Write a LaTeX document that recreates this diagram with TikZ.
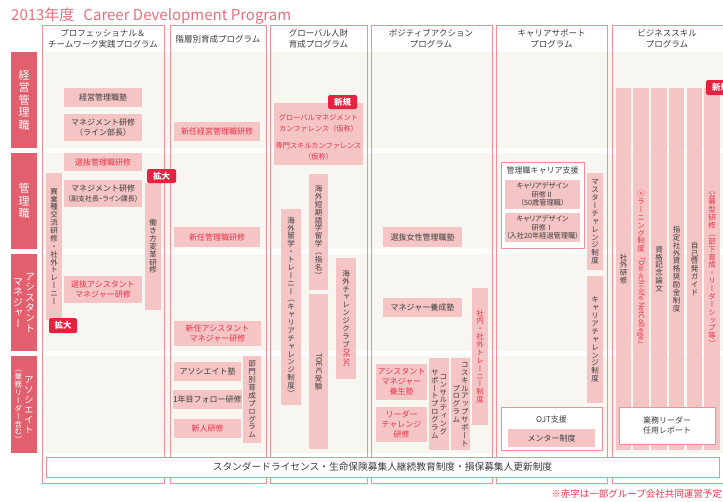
\documentclass[tikz,border=0pt]{standalone}
\usepackage{fontspec}
\usepackage{graphicx}
\setmainfont{Noto Sans CJK JP}
\newfontfamily\vfont[RawFeature=+vert]{Noto Sans CJK JP}
\newfontfamily\pfont[RawFeature=+palt]{Noto Sans CJK JP}
\definecolor{titlepink}{HTML}{E8707E}
\definecolor{rowred}{HTML}{E2606E}
\definecolor{linepink}{HTML}{EE8F99}
\definecolor{boxpink}{HTML}{F5C4C5}
\definecolor{beige}{HTML}{F8F6F1}
\definecolor{badgered}{HTML}{E5223F}
\definecolor{redtxt}{HTML}{E8334A}
\definecolor{darktxt}{HTML}{3C3C3C}
\makeatletter
\def\vt@end{}
\def\vt@endmark{\vt@end}
\newcommand\vtgap{0.05}
\def\vt@loop#1{\def\vt@arg{#1}\ifx\vt@arg\vt@endmark\else\vt@char{#1}\vskip\vtgap em\relax\expandafter\vt@loop\fi}
\def\vt@char#1{\hbox to 1em{\hss\vrule width0pt height0.88em depth0.12em\relax#1\hss}}
\newcommand\vt[1]{\vtop{\vfont\offinterlineskip\vt@loop#1\vt@end\unskip}}
\newcommand\rlat[1]{\raisebox{0.88em}{\rotatebox{-90}{\normalfont\vrule width0pt height0.78em depth0.22em\relax#1}}}
\newcommand\vtwo[3][1pt]{$\vcenter{\vt{#3}}\hskip#1\vcenter{\vt{#2}}$}
\makeatother
\newcommand\bx[7]{\node[#1,minimum width={(#5-#3)*1pt},minimum height={(#6-#4)*1pt}] (#2) at ({(#3+#5)/2},{(#4+#6)/2}) {#7};}
\tikzset{
  pbox/.style={fill=boxpink,inner sep=0pt,align=center,text=darktxt,font=\fontsize{8}{10}\selectfont},
  redt/.style={text=redtxt},
  vbar/.style={fill=boxpink,inner sep=0pt,text=darktxt,font=\fontsize{7.5}{9}\selectfont},
  wbox/.style={fill=white,draw=linepink,line width=0.8pt,inner sep=0pt,align=center,text=darktxt,font=\fontsize{8}{10}\selectfont},
  badge/.style={fill=badgered,rounded corners=1.5pt,inner sep=0pt,text=white,font=\bfseries\fontsize{8.5}{10}\selectfont},
  rowlbl/.style={fill=rowred,inner sep=0pt,text=white,font=\fontsize{11}{13}\selectfont},
  colframe/.style={draw=linepink,line width=0.8pt},
  hdr/.style={align=center,inner sep=0pt,text=darktxt,font=\fontsize{8.5}{11}\selectfont},
  txt/.style={align=center,inner sep=0pt,text=darktxt,font=\fontsize{8}{10}\selectfont},
  titletxt/.style={inner sep=0pt,text=titlepink,font=\fontsize{15}{17}\selectfont}
}
\begin{document}
\begin{tikzpicture}[x=1pt,y=-1pt]
\useasboundingbox (0,0) rectangle (723,501);
\clip (0,0) rectangle (723,501);
\fill[white] (0,0) rectangle (723,501);
\node[titletxt,anchor=base west] (title) at (11,20) {2013年度\hspace{0.6em}Career Development Program};
% rows
\fill[beige] (42,52) rectangle (723,148);
\fill[beige] (42,153) rectangle (723,249);
\fill[beige] (42,254) rectangle (723,351);
\fill[beige] (42,356) rectangle (723,453);
% columns
\draw[colframe] (42,25) rectangle (164,483);
\draw[colframe] (170,25) rectangle (266,483);
\draw[colframe] (270,25) rectangle (367,483);
\draw[colframe] (371,25) rectangle (492,483);
\draw[colframe] (496,25) rectangle (607,483);
\draw[colframe] (612,25) rectangle (730,483);
% headers
\node[hdr] (h1) at (103,39) {プロフェッショナル＆\\チームワーク実践プログラム};
\node[hdr] (h2) at (218,39) {階層別育成プログラム};
\node[hdr] (h3) at (318.5,39) {グローバル人財\\育成プログラム};
\node[hdr] (h4) at (431,39) {ポジティブアクション\\プログラム};
\node[hdr] (h5) at (551.5,39) {キャリアサポート\\プログラム};
\node[hdr] (h6) at (667,39) {ビジネススキル\\プログラム};
% row labels
\bx{rowlbl}{r1}{11}{52}{37}{148}{\renewcommand\vtgap{0.13}\vt{経営管理職}}
\bx{rowlbl}{r2}{11}{153}{37}{249}{\renewcommand\vtgap{0.13}\vt{管理職}}
\bx{rowlbl,font=\fontsize{10}{12}\selectfont}{r3}{11}{254}{37}{351}{\renewcommand\vtgap{0.04}\vtwo[2pt]{アシスタント}{マネジャー}}
\bx{rowlbl,font=\fontsize{9.5}{11}\selectfont}{r4}{11}{356}{37}{453}{$\vcenter{\fontsize{7.5}{9}\selectfont\vt{（業務リーダー含む）}}\hskip2pt\vcenter{\vt{アソシエイト}}$}
% column 1
\bx{pbox}{b11}{64}{88}{142}{107}{経営管理職塾}
\bx{pbox}{b12}{64}{114}{142}{141}{マネジメント研修\\（ライン部長）}
\bx{pbox,redt}{b13}{64}{153}{142}{171}{選抜管理職研修}
\bx{pbox}{b14}{64}{180}{142}{207}{マネジメント研修\\{\pfont\fontsize{7}{9}\selectfont（副支社長・ライン課長）}}
\bx{vbar}{b15}{46}{173}{62}{320}{\vt{異業種交流研修・社外トレーニー}}
\bx{pbox,redt}{b16}{64}{276}{142}{303}{選抜アシスタント\\マネジャー研修}
\bx{vbar}{b17}{145}{183}{161}{310}{\vt{働き方変革研修}}
\bx{badge}{k1}{147}{169}{176}{183}{拡大}
\bx{badge}{k2}{49}{318}{77}{333}{拡大}
% column 2
\bx{pbox,redt}{b21}{174}{122}{260}{141}{新任経営管理職研修}
\bx{pbox,redt}{b22}{174}{227}{260}{247}{新任管理職研修}
\bx{pbox,redt}{b23}{174}{321}{261}{346}{新任アシスタント\\マネジャー研修}
\bx{pbox}{b24}{174}{362}{241}{381}{アソシエイト塾}
\bx{pbox}{b25}{174}{390}{241}{409}{1年目フォロー研修}
\bx{pbox,redt}{b26}{174}{419}{241}{438}{新人研修}
\bx{vbar}{b27}{243}{356}{261}{443}{\vt{部門別育成プログラム}}
% column 3
\bx{pbox}{b31}{274}{103}{363}{165}{}
\node[txt,redt,font=\fontsize{7.2}{11}\selectfont] (t31) at (318.5,123.5) {グローバルマネジメント\\カンファレンス（仮称）};
\node[txt,redt,font=\fontsize{7.2}{11}\selectfont] (t32) at (318.5,151.5) {専門スキルカンファレンス\\（仮称）};
\bx{badge}{k3}{328}{95}{357}{109}{新規}
\bx{vbar}{b32}{309}{174}{328}{290}{\vt{海外短期語学留学（指名）}}
\bx{vbar}{b33}{309}{294}{328}{449}{\vt{{\rlat{TOEIC}}受験}}
\bx{vbar}{b34}{281}{209}{301}{405}{\vt{海外留学・トレーニー（キャリアチャレンジ制度）}}
\bx{vbar}{b35}{336}{258}{356}{379}{\vt{海外チャレンジクラブ{\color{redtxt}\rlat{DESC}}}}
% column 4
\bx{pbox}{b41}{383}{227}{462}{247}{選抜女性管理職塾}
\bx{pbox}{b42}{383}{298}{462}{317}{マネジャー養成塾}
\bx{vbar,redt}{b43}{472}{288}{488}{425}{\vt{社内・社外トレーニー制度}}
\bx{pbox,redt}{b44}{376}{364}{427}{400}{アシスタント\\マネジャー\\養生塾}
\bx{pbox,redt}{b45}{376}{407}{427}{442}{リーダー\\チャレンジ\\研修}
\bx{vbar}{b46}{429}{358}{449}{450}{\vtwo{コンサルティング}{サポートプログラム}}
\bx{vbar}{b47}{451}{358}{470}{450}{\vtwo{コスキルアップサポート}{プログラム}}
% column 5
\bx{wbox}{w51}{501}{162}{584}{248}{}
\node[txt] (t51) at (542.5,170.5) {管理職キャリア支援};
\bx{pbox,font=\pfont\fontsize{7.2}{8.7}\selectfont}{b51}{505}{180}{580}{209}{キャリアデザイン\\研修Ⅱ\\（50歳管理職）}
\bx{pbox,font=\pfont\fontsize{7.2}{8.7}\selectfont}{b52}{505}{213}{580}{242}{キャリアデザイン\\研修Ⅰ\\（入社20年経過管理職）}
\bx{vbar}{b53}{587}{173}{603}{270}{\vt{マスターチャレンジ制度}}
\bx{vbar}{b54}{587}{276}{603}{403}{\vt{キャリアチャレンジ制度}}
\bx{wbox}{w52}{501}{407}{602}{450}{}
\node[txt] (t52) at (551.5,419) {OJT支援};
\bx{pbox}{b55}{508}{429}{595}{447}{メンター制度}
% column 6
\bx{vbar}{c61}{616}{88}{631}{450}{\vt{社外研修}}
\bx{vbar,redt}{c62}{633}{88}{649}{450}{\vt{ⓔラーニング制度{\rlat{「Dai-ichi-life NetCollege」}}}}
\bx{vbar}{c63}{651}{88}{667}{450}{\vt{資格記念論文}}
\bx{vbar}{c64}{669}{88}{684}{450}{\vt{指定社外資格奨励金制度}}
\bx{vbar}{c65}{687}{88}{702}{450}{\vt{自己啓発ガイド}}
\bx{vbar,redt}{c66}{704}{88}{720}{450}{\vt{公募型研修（部下育成・リーダーシップ等）}}
\bx{badge}{k4}{706}{80}{735}{95}{新規}
\bx{wbox}{w61}{619}{407}{715}{444}{業務リーダー\\任用レポート}
% bottom
\bx{wbox,font=\fontsize{9.7}{11}\selectfont}{bb}{46}{457}{719}{477}{スタンダードライセンス・生命保険募集人継続教育制度・損保募集人更新制度}
\node[txt,redt,anchor=east,font=\fontsize{9.5}{11}\selectfont] (note) at (722,494) {※赤字は一部グループ会社共同運営予定};
\end{tikzpicture}
\end{document}
